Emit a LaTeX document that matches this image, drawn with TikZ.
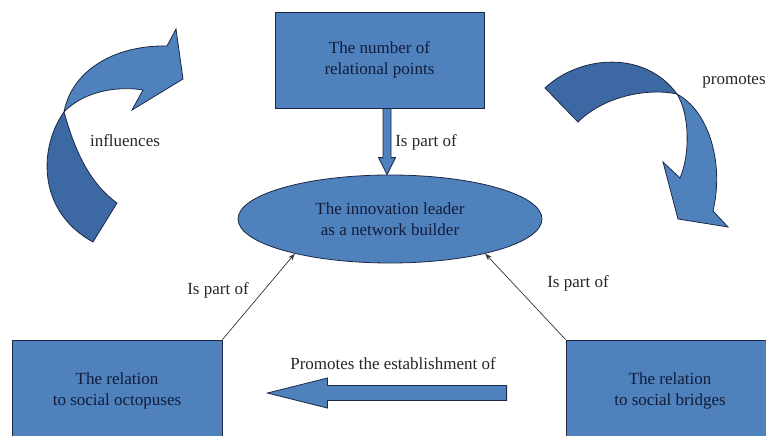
\documentclass[tikz,border=0pt]{standalone}
\usepackage{fontspec}
\setmainfont{Liberation Serif}
\usetikzlibrary{arrows.meta,calc,shapes.geometric,positioning}
\definecolor{boxblue}{RGB}{79,129,189}
\definecolor{darkblue}{RGB}{60,104,164}
\definecolor{edgeblue}{RGB}{28,40,70}
\definecolor{textnavy}{RGB}{18,28,58}

\begin{document}
\begin{tikzpicture}[x=1pt,y=-1pt,
  every node/.style={font=\fontsize{17}{20.5}\selectfont,align=center},
  box/.style={draw=edgeblue,fill=boxblue,line width=0.8pt,text=textnavy,inner sep=0,minimum width=#1},
  remark/.style={text=black!85},
  part/.style={-{Stealth[length=7pt,width=5pt]},line width=0.7pt,black!80},
  blockarrow/.style={draw=edgeblue,fill=boxblue,line width=0.8pt,line join=miter}]
\useasboundingbox (0,0) rectangle (766,436);
\clip (0,0) rectangle (766,436);
\node[box=209,minimum height=96] (points) at (379.5,60) {The number of\\relational points};
\node[box=304,minimum height=88,ellipse] (leader) at (390,219) {The innovation leader\\as a network builder};
\node[box=210,minimum height=102] (octopus) at (117,391) {The relation\\to social octopuses};
\node[box=208,minimum height=102] (bridges) at (670,391) {The relation\\to social bridges};
\coordinate (parttop) at ($(points.south)+(7.5,0)$);
\coordinate (parttip) at ($(leader.north)+(-3,0)$);
\draw[blockarrow] ($(parttop)+(-4,0)$) -- ($(parttip)+(-4,-17)$) -- ($(parttip)+(-8.5,-17)$) -- (parttip)
  -- ($(parttip)+(8.5,-17)$) -- ($(parttip)+(4,-17)$) -- ($(parttop)+(4,0)$) -- cycle;
\node[remark] (toppart) at (426,142) {Is part of};
\draw[part] (octopus.north east) -- (leader.200);
\draw[part] (bridges.north west) -- (leader.340);
\node[remark] (leftpart) at (218,290) {Is part of};
\node[remark] (rightpart) at (578,283) {Is part of};
\coordinate (promtail) at ($(bridges.west)+(-59,2)$);
\coordinate (promtip) at ($(octopus.east)+(45,2)$);
\draw[blockarrow] ($(promtail)+(0,-7.5)$) -- ($(promtip)+(60,-7.5)$) -- ($(promtip)+(60,-15)$) -- (promtip)
  -- ($(promtip)+(60,15)$) -- ($(promtip)+(60,7.5)$) -- ($(promtail)+(0,7.5)$) -- cycle;
\node[remark] (promlabel) at (393,364) {Promotes the establishment of};
\draw[blockarrow,fill=darkblue] (93,242) .. controls (35,210) and (40,145) .. (64,112)
  .. controls (72,140) and (85,180) .. (117,203) -- cycle;
\draw[blockarrow] (64,112) .. controls (72,70) and (115,45) .. (167,46) -- (176,29) -- (183,79) -- (132,110)
  -- (143,90) .. controls (120,86) and (85,90) .. (64,112) -- cycle;
\node[remark] (influences) at (125,141) {influences};
\draw[blockarrow,fill=darkblue] (545,88) .. controls (580,55) and (645,50) .. (677,94)
  .. controls (650,88) and (605,95) .. (578,122) -- cycle;
\draw[blockarrow] (677,94) .. controls (710,112) and (724,165) .. (713,211) -- (728,227) -- (678,219) -- (663,162)
  -- (680,178) .. controls (690,155) and (690,115) .. (677,94) -- cycle;
\node[remark] (promotes) at (734,82) {promotes};
\end{tikzpicture}
\end{document}
